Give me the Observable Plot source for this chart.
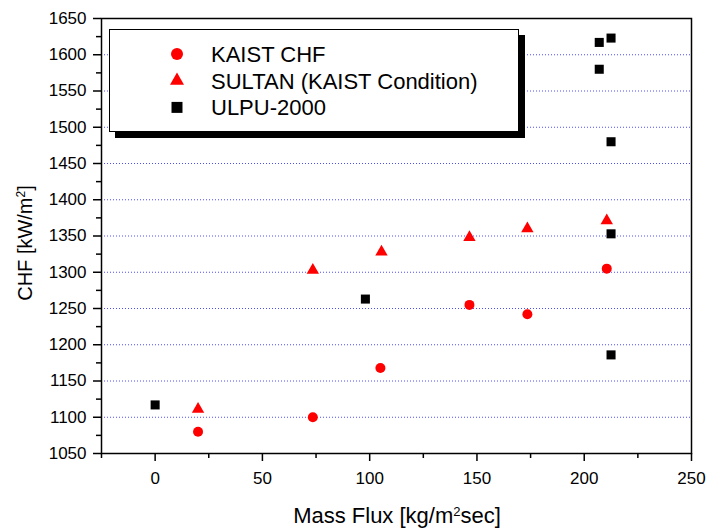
<!DOCTYPE html>
<html>
<head>
<meta charset="utf-8">
<script src="https://cdn.jsdelivr.net/npm/d3@7"></script>
<script src="https://cdn.jsdelivr.net/npm/@observablehq/plot@0.6"></script>
<style>
  html, body { margin: 0; padding: 0; background: white; }
  #chart { width: 706px; height: 530px; }
</style>
</head>
<body>
<div id="chart"></div>
<script>
// Data
const kaistX  = [20, 73.5, 105, 146.5, 173.5, 210.5];
const kaistY  = [1080, 1100, 1168, 1255, 1242, 1305];
const sultanX = [20, 73.5, 105.5, 146.5, 173.5, 210.5];
const sultanY = [1111, 1303, 1328, 1348, 1360, 1371];
const ulpuX   = [0, 98, 212.5, 212.5, 212.5, 207, 207, 212.5];
const ulpuY   = [1117, 1263, 1186, 1353, 1480, 1580, 1617, 1623];

const seriesNames = ["KAIST CHF", "SULTAN (KAIST Condition)", "ULPU-2000"];
const xMajorTicks = [0, 50, 100, 150, 200, 250];
const yMajorTicks = [1050, 1100, 1150, 1200, 1250, 1300, 1350, 1400, 1450, 1500, 1550, 1600, 1650];
const yGridTicks  = [1100, 1150, 1200, 1250, 1300, 1350, 1400, 1450, 1500, 1550, 1600];
const xMinorTicks = [-25, 25, 75, 125, 175, 225];
const yMinorTicks = [1075, 1125, 1175, 1225, 1275, 1325, 1375, 1425, 1475, 1525, 1575, 1625];

const kaist  = kaistX.map((x, i) => ({x, y: kaistY[i]}));
const sultan = sultanX.map((x, i) => ({x, y: sultanY[i]}));
const ulpu   = ulpuX.map((x, i) => ({x, y: ulpuY[i]}));

const font = "'Liberation Sans', Arial, Helvetica, sans-serif";
const fmt = d => String(d);

const svg = Plot.plot({
  width: 706,
  height: 530,
  marginLeft: 101,
  marginRight: 15,
  marginTop: 18,
  marginBottom: 77,
  style: {fontFamily: font, fontSize: "17px", color: "black", background: "white"},
  x: {domain: [-25, 250]},
  y: {domain: [1050, 1650]},
  marks: [
    Plot.ruleY(yGridTicks, {stroke: "#0000ff", strokeOpacity: 0.7, strokeDasharray: "1,2", strokeWidth: 1}),
    Plot.axisX(xMajorTicks, {tickSize: 8, tickPadding: 10, tickFormat: fmt, label: null, strokeWidth: 1.5, fontSize: 17}),
    Plot.axisX(xMinorTicks, {tickSize: 5, tickFormat: () => "", label: null, strokeWidth: 1.5}),
    Plot.axisY(yMajorTicks, {tickSize: 8, tickPadding: 7, tickFormat: fmt, label: null, strokeWidth: 1.5, fontSize: 17}),
    Plot.axisY(yMinorTicks, {tickSize: 5, tickFormat: () => "", label: null, strokeWidth: 1.5}),
    Plot.frame({stroke: "black", strokeWidth: 1.5}),
    Plot.dot(kaist,  {x: "x", y: "y", symbol: "circle",   r: 5,   fill: "#ff0000"}),
    Plot.dot(sultan, {x: "x", y: "y", symbol: "triangle", r: 4.6, fill: "#ff0000"}),
    Plot.dot(ulpu,   {x: "x", y: "y", symbol: "square",   r: 5.1, fill: "#000000"})
  ]
});

document.getElementById("chart").appendChild(svg);

const s = d3.select(svg);

// Axis titles with superscripts
const xt = s.append("text")
  .attr("x", 397).attr("y", 523)
  .attr("text-anchor", "middle")
  .attr("font-family", font).attr("font-size", 22).attr("fill", "black");
xt.append("tspan").text("Mass Flux [kg/m");
xt.append("tspan").attr("baseline-shift", "super").attr("font-size", 13).text("2");
xt.append("tspan").text("sec]");

const yt = s.append("text")
  .attr("transform", "translate(32,243) rotate(-90)")
  .attr("text-anchor", "middle")
  .attr("font-family", font).attr("font-size", 20).attr("fill", "black");
yt.append("tspan").text("CHF [kW/m");
yt.append("tspan").attr("baseline-shift", "super").attr("font-size", 12).text("2");
yt.append("tspan").text("]");

// Legend box with shadow
const lg = s.append("g").attr("text-anchor", "start");
lg.append("rect").attr("x", 115).attr("y", 35).attr("width", 410).attr("height", 103).attr("fill", "black");
lg.append("rect").attr("x", 109.5).attr("y", 29.5).attr("width", 409).attr("height", 102)
  .attr("fill", "white").attr("stroke", "black").attr("stroke-width", 1);

const legendSymbols = [d3.symbolCircle, d3.symbolTriangle, d3.symbolSquare];
const legendR = [6, 5.2, 6.2];
const legendFill = ["#ff0000", "#ff0000", "#000000"];
seriesNames.forEach((name, i) => {
  const cy = 54 + i * 26.7;
  lg.append("path")
    .attr("d", d3.symbol(legendSymbols[i], Math.PI * legendR[i] * legendR[i])())
    .attr("transform", `translate(177,${cy})`)
    .attr("fill", legendFill[i]);
  lg.append("text")
    .attr("x", 211).attr("y", cy).attr("dy", "0.36em")
    .attr("text-anchor", "start")
    .attr("font-family", font).attr("font-size", 22).attr("fill", "black")
    .text(name);
});
</script>
</body>
</html>
